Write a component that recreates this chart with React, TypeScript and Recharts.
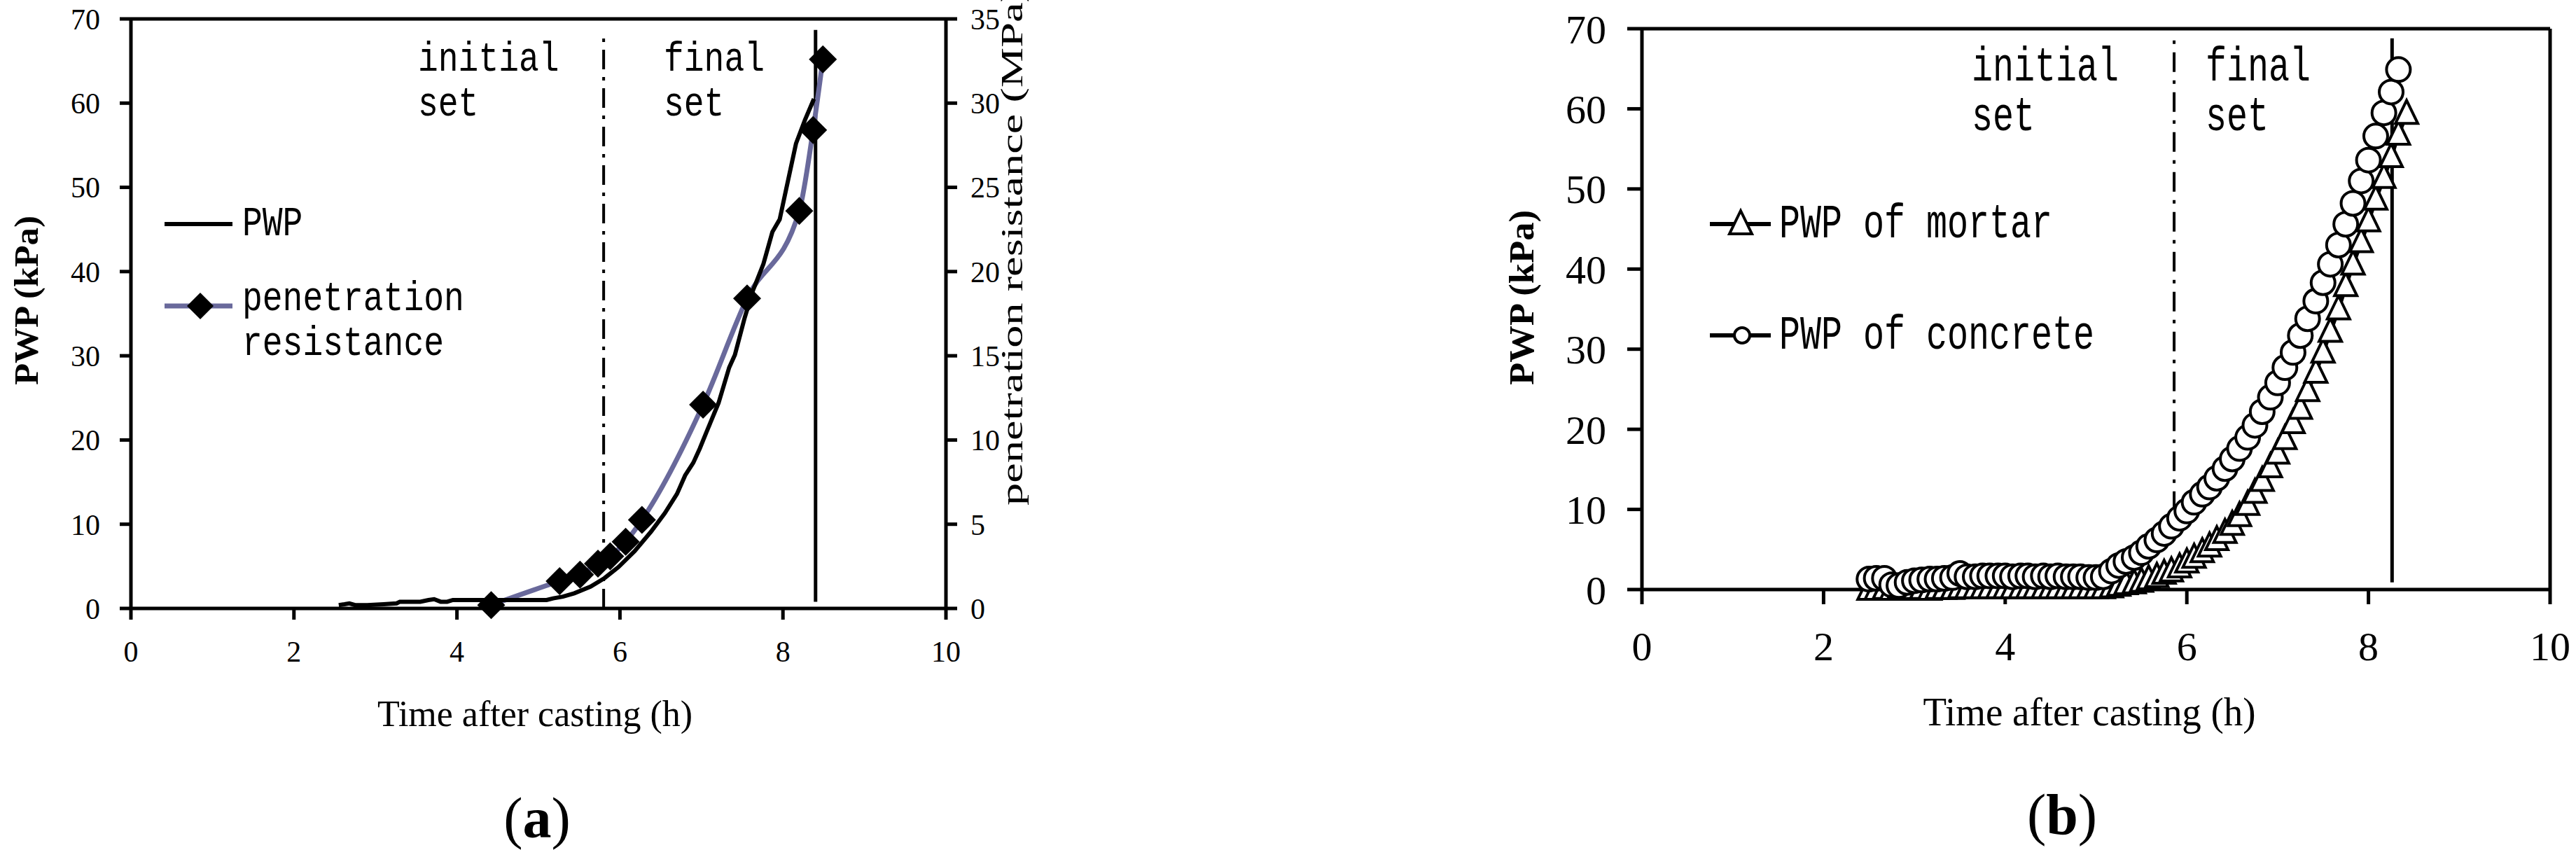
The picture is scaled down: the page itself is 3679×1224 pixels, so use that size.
import React from 'react';
import { LineChart, Line, XAxis, YAxis, ReferenceLine, Legend, Label } from 'recharts';

// ---------- shared ticks ----------
const timeTicks = [0, 2, 4, 6, 8, 10];
const pwpTicks = [0, 10, 20, 30, 40, 50, 60, 70];
const resistanceTicks = [0, 5, 10, 15, 20, 25, 30, 35];

// ---------- panel (a) ----------
const pwpATimes = [2.55, 2.62, 2.68, 2.75, 2.9, 3.1, 3.26, 3.3, 3.55, 3.65, 3.72, 3.8, 3.88, 3.95, 4.3, 4.7, 5.1, 5.18, 5.3, 5.44, 5.64, 5.81, 5.98, 6.18, 6.38, 6.55, 6.7, 6.8, 6.9, 6.98, 7.06, 7.21, 7.34, 7.41, 7.53, 7.63, 7.76, 7.87, 7.96, 8.04, 8.16, 8.27, 8.38];
const pwpAValues = [0.4, 0.5, 0.6, 0.4, 0.4, 0.5, 0.6, 0.8, 0.8, 1.0, 1.1, 0.8, 0.8, 1.0, 1.0, 1.0, 1.0, 1.2, 1.4, 1.8, 2.6, 3.6, 4.9, 6.8, 9.1, 11.3, 13.6, 15.8, 17.3, 19.0, 20.9, 24.4, 28.6, 30.1, 34.5, 37.7, 40.9, 44.7, 46.2, 49.8, 55.2, 58.0, 60.5];
const penetrationTimes = [4.42, 5.26, 5.51, 5.73, 5.88, 6.07, 6.27, 7.02, 7.56, 8.2, 8.37, 8.49];
const penetrationValues = [0.2, 1.62, 2.01, 2.66, 3.1, 3.96, 5.26, 12.1, 18.4, 23.6, 28.4, 32.6];
const initialSetA = 5.8;
const finalSetA = 8.4;

// ---------- panel (b) ----------
const mortarTimes = [2.5, 2.58, 2.67, 2.75, 2.83, 2.92, 3.0, 3.08, 3.17, 3.25, 3.33, 3.42, 3.5, 3.58, 3.67, 3.75, 3.83, 3.92, 4.0, 4.08, 4.17, 4.25, 4.33, 4.42, 4.5, 4.58, 4.67, 4.75, 4.83, 4.92, 5.0, 5.08, 5.17, 5.25, 5.33, 5.42, 5.5, 5.58, 5.67, 5.75, 5.83, 5.92, 6.0, 6.08, 6.17, 6.25, 6.33, 6.42, 6.5, 6.58, 6.67, 6.75, 6.83, 6.92, 7.0, 7.08, 7.17, 7.25, 7.33, 7.42, 7.5, 7.58, 7.67, 7.75, 7.83, 7.92, 8.0, 8.08, 8.17, 8.25, 8.33, 8.42];
const mortarValues = [0.0, 0.0, 0.1, 0.0, 0.0, 0.0, 0.1, 0.1, 0.0, 0.1, 0.1, 0.1, 0.2, 0.2, 0.2, 0.2, 0.2, 0.2, 0.2, 0.2, 0.2, 0.2, 0.2, 0.2, 0.2, 0.2, 0.2, 0.2, 0.2, 0.2, 0.2, 0.2, 0.3, 0.5, 0.7, 0.8, 1.0, 1.3, 1.6, 2.0, 2.3, 2.8, 3.4, 4.0, 4.7, 5.4, 6.2, 7.1, 8.1, 9.2, 10.6, 12.1, 13.6, 15.3, 17.0, 18.8, 20.8, 22.6, 24.8, 27.1, 29.6, 32.2, 35.0, 37.9, 40.6, 43.4, 46.0, 48.7, 51.4, 54.0, 56.8, 59.4];
const concreteTimes = [2.5, 2.58, 2.67, 2.75, 2.83, 2.92, 3.0, 3.08, 3.17, 3.25, 3.33, 3.42, 3.5, 3.58, 3.67, 3.75, 3.83, 3.92, 4.0, 4.08, 4.17, 4.25, 4.33, 4.42, 4.5, 4.58, 4.67, 4.75, 4.83, 4.92, 5.0, 5.08, 5.17, 5.25, 5.33, 5.42, 5.5, 5.58, 5.67, 5.75, 5.83, 5.92, 6.0, 6.08, 6.17, 6.25, 6.33, 6.42, 6.5, 6.58, 6.67, 6.75, 6.83, 6.92, 7.0, 7.08, 7.17, 7.25, 7.33, 7.42, 7.5, 7.58, 7.67, 7.75, 7.83, 7.92, 8.0, 8.08, 8.17, 8.25, 8.33];
const concreteValues = [1.3, 1.4, 1.4, 0.6, 0.5, 0.9, 1.1, 1.2, 1.3, 1.3, 1.4, 1.5, 2.0, 1.6, 1.6, 1.7, 1.7, 1.7, 1.7, 1.6, 1.7, 1.7, 1.6, 1.7, 1.6, 1.7, 1.6, 1.6, 1.6, 1.5, 1.5, 1.6, 2.3, 3.0, 3.5, 4.0, 4.6, 5.4, 6.2, 7.0, 7.9, 8.9, 9.8, 10.9, 11.9, 12.8, 13.9, 15.1, 16.3, 17.6, 19.0, 20.5, 22.2, 24.0, 25.8, 27.7, 29.6, 31.7, 33.8, 36.0, 38.3, 40.6, 43.0, 45.6, 48.2, 51.0, 53.6, 56.6, 59.5, 62.1, 64.9];
const initialSetB = 5.86;
const finalSetB = 8.26;

// ---------- styling ----------
const SERIF = '"Liberation Serif", "Times New Roman", serif';
const MONO = '"Liberation Mono", "Courier New", monospace';
const PURPLE = '#69699b';
const BLACK = '#000';

const toSeries = (ts: number[], vs: number[]) => ts.map((t, i) => ({ t, v: vs[i] }));

const pwpAData = toSeries(pwpATimes, pwpAValues);
const penetrationData = toSeries(penetrationTimes, penetrationValues);
const mortarData = toSeries(mortarTimes, mortarValues);
const concreteData = toSeries(concreteTimes, concreteValues);

const MonoText = ({ x, y, size = 48, sy = 1.25, children }: any) => (
  <text transform={`translate(${x},${y}) scale(1,${sy})`} fontFamily={MONO} fontSize={size} fill={BLACK}>
    {children}
  </text>
);

const diamondPoints = (cx: number, cy: number, s: number) =>
  `${cx},${cy - s} ${cx + s},${cy} ${cx},${cy + s} ${cx - s},${cy}`;
const trianglePoints = (cx: number, cy: number) =>
  `${cx},${cy - 19} ${cx + 16},${cy + 14} ${cx - 16},${cy + 14}`;

const DiamondDot = (props: any) => {
  const { cx, cy, index } = props;
  if (cx == null || cy == null) return <g key={`d${index}`} />;
  return <polygon key={`d${index}`} points={diamondPoints(cx, cy, 20)} fill={BLACK} />;
};
const TriangleDot = (props: any) => {
  const { cx, cy, index } = props;
  if (cx == null || cy == null) return <g key={`t${index}`} />;
  return <polygon key={`t${index}`} points={trianglePoints(cx, cy)} fill="#fff" stroke={BLACK} strokeWidth={4} />;
};
const CircleDot = (props: any) => {
  const { cx, cy, index } = props;
  if (cx == null || cy == null) return <g key={`c${index}`} />;
  return <circle key={`c${index}`} cx={cx} cy={cy} r={17} fill="#fff" stroke={BLACK} strokeWidth={4} />;
};

const sortPayload = (payload: any[], order: string[]) =>
  [...(payload || [])].sort((a, b) => order.indexOf(a.value) - order.indexOf(b.value));

const LegendA = (props: any) => {
  const items = sortPayload(props.payload, ['PWP', 'penetration resistance']);
  return (
    <svg width={520} height={260} style={{ overflow: 'visible', display: 'block' }}>
      {items.map((it: any, i: number) => {
        const y = i === 0 ? 40 : 157;
        const isPen = it.value === 'penetration resistance';
        return (
          <g key={it.value}>
            <line x1={15} x2={112} y1={y} y2={y} stroke={it.color} strokeWidth={isPen ? 7 : 6} />
            {isPen && <polygon points={diamondPoints(66, y, 19)} fill={BLACK} />}
            {isPen ? (
              <>
                <MonoText x={126} y={y + 6}>penetration</MonoText>
                <MonoText x={126} y={y + 70}>resistance</MonoText>
              </>
            ) : (
              <MonoText x={126} y={y + 16}>{it.value}</MonoText>
            )}
          </g>
        );
      })}
    </svg>
  );
};

const LegendB = (props: any) => {
  const items = sortPayload(props.payload, ['PWP of mortar', 'PWP of concrete']);
  return (
    <svg width={560} height={260} style={{ overflow: 'visible', display: 'block' }}>
      {items.map((it: any, i: number) => {
        const y = i === 0 ? 40 : 199;
        const isMortar = it.value === 'PWP of mortar';
        return (
          <g key={it.value}>
            <line x1={22} x2={109} y1={y} y2={y} stroke={BLACK} strokeWidth={6} />
            {isMortar ? (
              <polygon points={trianglePoints(66, y)} fill="#fff" stroke={BLACK} strokeWidth={4} />
            ) : (
              <circle cx={68} cy={y} r={11} fill="#fff" stroke={BLACK} strokeWidth={4} />
            )}
            <MonoText x={121} y={y + 19} size={50} sy={1.38}>{it.value}</MonoText>
          </g>
        );
      })}
    </svg>
  );
};

const axisStroke = { stroke: BLACK, strokeWidth: 5 };

const PanelA = () => (
  <LineChart width={1500} height={1224} margin={{ top: 27, right: 0, bottom: 0, left: 0 }}>
    <XAxis
      type="number"
      dataKey="t"
      domain={[0, 10]}
      ticks={timeTicks}
      height={355}
      tickSize={16}
      tickMargin={30}
      axisLine={axisStroke}
      tickLine={axisStroke}
      tick={{ fill: BLACK, fontSize: 42, fontFamily: SERIF }}
    >
      <Label
        content={() => (
          <text x={764} y={1019} textAnchor="middle" dominantBaseline="central" fontFamily={SERIF} fontSize={52} fill={BLACK}>
            Time after casting (h)
          </text>
        )}
      />
      <Label
        content={() => (
          <text x={767} y={1168} textAnchor="middle" dominantBaseline="central" fontFamily={SERIF} fontSize={82} fill={BLACK}>
            (<tspan fontWeight="bold">a</tspan>)
          </text>
        )}
      />
      <Label
        content={() => (
          <g>
            <MonoText x={597} y={101}>initial</MonoText>
            <MonoText x={597} y={165}>set</MonoText>
            <MonoText x={948} y={101}>final</MonoText>
            <MonoText x={948} y={165}>set</MonoText>
          </g>
        )}
      />
    </XAxis>
    <YAxis
      yAxisId="left"
      orientation="left"
      type="number"
      domain={[0, 70]}
      ticks={pwpTicks}
      width={187}
      tickSize={16}
      tickMargin={28}
      axisLine={axisStroke}
      tickLine={axisStroke}
      tick={{ fill: BLACK, fontSize: 42, fontFamily: SERIF }}
    >
      <Label
        content={() => (
          <text
            transform="translate(37,429) rotate(-90)"
            textAnchor="middle"
            dominantBaseline="central"
            fontFamily={SERIF}
            fontWeight="bold"
            fontSize={48}
            textLength={242}
            lengthAdjust="spacingAndGlyphs"
            fill={BLACK}
          >
            PWP (kPa)
          </text>
        )}
      />
    </YAxis>
    <YAxis
      yAxisId="right"
      orientation="right"
      type="number"
      domain={[0, 35]}
      ticks={resistanceTicks}
      width={149}
      tickSize={16}
      tickMargin={19}
      axisLine={axisStroke}
      tickLine={axisStroke}
      tick={{ fill: BLACK, fontSize: 42, fontFamily: SERIF }}
    >
      <Label
        content={() => (
          <text
            transform="translate(1445,352) rotate(-90)"
            textAnchor="middle"
            dominantBaseline="central"
            fontFamily={SERIF}
            fontSize={44}
            textLength={740}
            lengthAdjust="spacingAndGlyphs"
            fill={BLACK}
          >
            penetration resistance (MPa)
          </text>
        )}
      />
    </YAxis>
    <ReferenceLine yAxisId="left" y={70} stroke={BLACK} strokeWidth={5} />
    <ReferenceLine
      yAxisId="left"
      segment={[{ x: initialSetA, y: 0 }, { x: initialSetA, y: 68.5 }]}
      stroke={BLACK}
      strokeWidth={4}
      strokeDasharray="28 11 5 11"
      ifOverflow="visible"
    />
    <ReferenceLine
      yAxisId="left"
      segment={[{ x: finalSetA, y: 0.8 }, { x: finalSetA, y: 68.7 }]}
      stroke={BLACK}
      strokeWidth={5}
      ifOverflow="visible"
    />
    <Line
      yAxisId="right"
      data={penetrationData}
      dataKey="v"
      name="penetration resistance"
      type="monotone"
      stroke={PURPLE}
      strokeWidth={7}
      dot={DiamondDot}
      activeDot={false}
      isAnimationActive={false}
    />
    <Line
      yAxisId="left"
      data={pwpAData}
      dataKey="v"
      name="PWP"
      type="linear"
      stroke={BLACK}
      strokeWidth={6}
      dot={false}
      activeDot={false}
      isAnimationActive={false}
    />
    <Legend
      layout="horizontal"
      verticalAlign="middle"
      align="center"
      content={LegendA}
      wrapperStyle={{ left: 220, top: 280, width: 520, height: 260 }}
    />
  </LineChart>
);

const PanelB = () => (
  <LineChart width={1579} height={1224} margin={{ top: 41, right: 37, bottom: 0, left: 0 }}>
    <XAxis
      type="number"
      dataKey="t"
      domain={[0, 10]}
      ticks={timeTicks}
      height={382}
      tickSize={21}
      tickMargin={39}
      axisLine={axisStroke}
      tickLine={axisStroke}
      tick={{ fill: BLACK, fontSize: 58, fontFamily: SERIF }}
    >
      <Label
        content={() => (
          <text x={884} y={1017} textAnchor="middle" dominantBaseline="central" fontFamily={SERIF} fontSize={56} textLength={475} lengthAdjust="spacingAndGlyphs" fill={BLACK}>
            Time after casting (h)
          </text>
        )}
      />
      <Label
        content={() => (
          <text x={845} y={1163} textAnchor="middle" dominantBaseline="central" fontFamily={SERIF} fontSize={82} fill={BLACK}>
            (<tspan fontWeight="bold">b</tspan>)
          </text>
        )}
      />
      <Label
        content={() => (
          <g>
            <MonoText x={716} y={115} size={50} sy={1.38}>initial</MonoText>
            <MonoText x={716} y={186} size={50} sy={1.38}>set</MonoText>
            <MonoText x={1050} y={115} size={50} sy={1.38}>final</MonoText>
            <MonoText x={1050} y={186} size={50} sy={1.38}>set</MonoText>
          </g>
        )}
      />
    </XAxis>
    <YAxis
      type="number"
      domain={[0, 70]}
      ticks={pwpTicks}
      width={245}
      tickSize={21}
      tickMargin={30}
      axisLine={axisStroke}
      tickLine={axisStroke}
      tick={{ fill: BLACK, fontSize: 58, fontFamily: SERIF }}
    >
      <Label
        content={() => (
          <text
            transform="translate(73,425) rotate(-90)"
            textAnchor="middle"
            dominantBaseline="central"
            fontFamily={SERIF}
            fontWeight="bold"
            fontSize={50}
            textLength={250}
            lengthAdjust="spacingAndGlyphs"
            fill={BLACK}
          >
            PWP (kPa)
          </text>
        )}
      />
    </YAxis>
    <ReferenceLine y={70} stroke={BLACK} strokeWidth={5} />
    <ReferenceLine x={10} stroke={BLACK} strokeWidth={5} />
    <ReferenceLine
      segment={[{ x: initialSetB, y: 9.8 }, { x: initialSetB, y: 68.8 }]}
      stroke={BLACK}
      strokeWidth={4}
      strokeDasharray="28 12 5 12"
      ifOverflow="visible"
    />
    <ReferenceLine
      segment={[{ x: finalSetB, y: 0.9 }, { x: finalSetB, y: 68.8 }]}
      stroke={BLACK}
      strokeWidth={5}
      ifOverflow="visible"
    />
    <Line
      data={mortarData}
      dataKey="v"
      name="PWP of mortar"
      type="linear"
      stroke={BLACK}
      strokeWidth={6}
      dot={TriangleDot}
      activeDot={false}
      isAnimationActive={false}
    />
    <Line
      data={concreteData}
      dataKey="v"
      name="PWP of concrete"
      type="linear"
      stroke={BLACK}
      strokeWidth={6}
      dot={CircleDot}
      activeDot={false}
      isAnimationActive={false}
    />
    <Legend
      layout="horizontal"
      verticalAlign="middle"
      align="center"
      content={LegendB}
      wrapperStyle={{ left: 320, top: 280, width: 560, height: 260 }}
    />
  </LineChart>
);

export default function App() {
  return (
    <div style={{ position: 'absolute', left: 0, top: 0, width: 3679, height: 1224, background: '#fff', overflow: 'hidden' }}>
      <div style={{ position: 'absolute', left: 0, top: 0 }}>
        <PanelA />
      </div>
      <div style={{ position: 'absolute', left: 2100, top: 0 }}>
        <PanelB />
      </div>
    </div>
  );
}
